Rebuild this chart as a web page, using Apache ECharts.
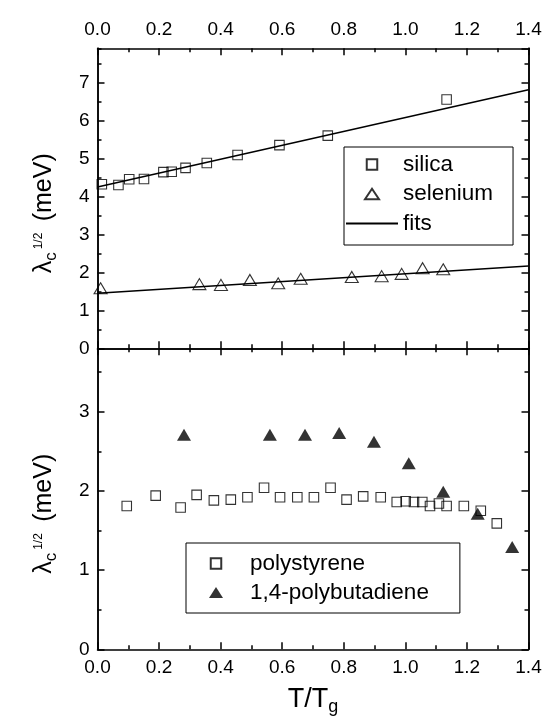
<!DOCTYPE html>
<html><head><meta charset="utf-8">
<script src="https://cdn.jsdelivr.net/npm/echarts@6/dist/echarts.min.js"></script>
<style>html,body{margin:0;padding:0;background:#fff}#c{width:546px;height:724px}</style>
</head><body><div id="c"></div>
<script>
// ---- data ----
const xTickLabels = ['0.0','0.2','0.4','0.6','0.8','1.0','1.2','1.4'];
const topYTickLabels = ['0','1','2','3','4','5','6','7'];
const botYTickLabels = ['0','1','2','3'];

const silicaX = [0.014,0.068,0.103,0.151,0.214,0.241,0.286,0.355,0.455,0.591,0.748,1.134];
const silicaY = [4.32,4.30,4.45,4.46,4.64,4.65,4.75,4.88,5.09,5.35,5.60,6.55];
const seleniumX = [0.010,0.331,0.401,0.495,0.587,0.660,0.826,0.923,0.988,1.056,1.123];
const seleniumY = [1.58,1.69,1.67,1.80,1.71,1.83,1.88,1.90,1.96,2.11,2.08];
const fitSilicaX = [0,1.4];
const fitSilicaY = [4.25,6.81];
const fitSeleniumX = [0,1.4];
const fitSeleniumY = [1.45,2.17];

const polystyreneX = [0.095,0.189,0.270,0.322,0.378,0.433,0.487,0.541,0.593,0.649,0.703,0.757,0.809,0.863,0.920,0.972,1.001,1.028,1.055,1.080,1.109,1.134,1.190,1.245,1.297];
const polystyreneY = [1.81,1.94,1.79,1.95,1.88,1.89,1.92,2.04,1.92,1.92,1.92,2.04,1.89,1.93,1.92,1.86,1.87,1.86,1.86,1.81,1.84,1.81,1.81,1.75,1.59];
const polybutadieneX = [0.281,0.560,0.674,0.785,0.898,1.011,1.123,1.235,1.347];
const polybutadieneY = [2.71,2.71,2.71,2.73,2.62,2.35,1.99,1.71,1.29];

// ---- helpers ----
const FONT = 'Liberation Sans, Arial, sans-serif';
const zip = (xs, ys) => xs.map((x, i) => [x, ys[i]]);
const lineStyle = {color: '#000', width: 1.5};

// legend icon shapes: invisible corner points keep the icon box proportions
const iconBox = (w, h) => 'M0 0L0 0M' + w + ' ' + h + 'L' + w + ' ' + h;
const squareIcon = (w, h, s) => 'path://' + iconBox(w, h) +
  'M' + (w / 2 - s / 2) + ' ' + (h / 2 - s / 2) + 'h' + s + 'v' + s + 'h' + (-s) + 'Z';
const triIcon = (w, h, tw, th) => 'path://' + iconBox(w, h) +
  'M' + (w / 2) + ' ' + (h / 2 - th / 2) + 'L' + (w / 2 + tw / 2) + ' ' + (h / 2 + th / 2) +
  'L' + (w / 2 - tw / 2) + ' ' + (h / 2 + th / 2) + 'Z';

function xAxis(gridIndex, position, showLabels, extra) {
  return Object.assign({
    type: 'value', gridIndex, position, min: 0, max: 1.4, interval: 0.2,
    axisLine: {show: true, onZero: false, lineStyle},
    axisTick: {show: true, inside: true, length: 7, lineStyle},
    minorTick: {show: true, splitNumber: 2, length: 4, lineStyle: {color: '#000', width: 1.5}},
    splitLine: {show: false},
    axisLabel: {show: showLabels, fontFamily: FONT, fontSize: 19, color: '#000', margin: 9,
      formatter: v => xTickLabels[Math.round(v / 0.2)]}
  }, extra || {});
}
function yAxis(gridIndex, position, max, interval, tickLen, labels, extra) {
  return Object.assign({
    type: 'value', gridIndex, position, min: 0, max, interval,
    axisLine: {show: true, onZero: false, lineStyle},
    axisTick: {show: true, inside: true, length: tickLen, lineStyle},
    splitLine: {show: false},
    axisLabel: labels ? {show: true, fontFamily: FONT, fontSize: 19, color: '#000', margin: 8,
      showMaxLabel: false, formatter: v => labels[Math.round(v)]} : {show: false}
  }, extra || {});
}
function yName() {
  return {
    name: '{l|λ}{sub|c}{sup|1/2} {t|(meV)}',
    nameLocation: 'middle', nameRotate: 90, nameGap: 38,
    nameTextStyle: {
      fontFamily: FONT, color: '#000',
      rich: {
        l: {fontFamily: FONT, fontSize: 25, lineHeight: 30, color: '#000'},
        sub: {fontFamily: FONT, fontSize: 17, lineHeight: 17, verticalAlign: 'bottom', color: '#000'},
        sup: {fontFamily: FONT, fontSize: 12, lineHeight: 12, verticalAlign: 'top', color: '#000', padding: [3, 0, 0, 3]},
        t: {fontFamily: FONT, fontSize: 25, lineHeight: 30, color: '#000', padding: [0, 30, 0, 8]}
      }
    }
  };
}

const grids = [
  {left: 97.5, top: 48.3, width: 431, height: 300},
  {left: 97.5, top: 348.3, width: 431, height: 301}
];

const emptyStyle = {color: 'rgba(255,255,255,0)', borderColor: '#000', borderWidth: 1.1};

const option = {
  animation: false,
  backgroundColor: '#fff',
  grid: grids,
  xAxis: [
    xAxis(0, 'bottom', false),
    xAxis(0, 'top', true),
    xAxis(1, 'bottom', true, {
      name: 'T/T{sub|g}', nameLocation: 'middle', nameGap: 33,
      nameTextStyle: {fontFamily: FONT, fontSize: 27, color: '#000', lineHeight: 34,
        rich: {sub: {fontFamily: FONT, fontSize: 18, lineHeight: 18, verticalAlign: 'bottom', color: '#000'}}}
    }),
    xAxis(1, 'top', false)
  ],
  yAxis: [
    yAxis(0, 'left', 7.9, 1, 7, topYTickLabels, yName()),
    yAxis(0, 'left', 7.9, 0.5, 4, null),
    yAxis(0, 'right', 7.9, 1, 7, null),
    yAxis(0, 'right', 7.9, 0.5, 4, null),
    yAxis(1, 'left', 3.8, 1, 7, botYTickLabels, yName()),
    yAxis(1, 'left', 3.8, 0.5, 4, null),
    yAxis(1, 'right', 3.8, 1, 7, null),
    yAxis(1, 'right', 3.8, 0.5, 4, null)
  ],
  legend: [
    {left: 344, top: 147, orient: 'vertical', selectedMode: false,
     data: [
       {name: 'silica', icon: squareIcon(52, 12, 10.5)},
       {name: 'selenium', icon: triIcon(52, 12, 14, 10.5)},
       {name: 'fits'}
     ],
     itemWidth: 52, itemHeight: 12, itemGap: 6.5, padding: [6, 20, 10, 1],
     borderColor: '#000', borderWidth: 1,
     textStyle: {fontFamily: FONT, fontSize: 22.5, color: '#000'}},
    {left: 186, top: 543, orient: 'vertical', selectedMode: false,
     data: [
       {name: 'polystyrene', icon: squareIcon(58, 12, 10.5)},
       {name: '1,4-polybutadiene', icon: triIcon(58, 12, 14, 11)}
     ],
     itemWidth: 58, itemHeight: 12, itemGap: 6, padding: [9, 31, 9, 0],
     borderColor: '#000', borderWidth: 1,
     textStyle: {fontFamily: FONT, fontSize: 22.5, color: '#000'}}
  ],
  series: [
    {name: 'fits', type: 'line', xAxisIndex: 0, yAxisIndex: 0, data: zip(fitSilicaX, fitSilicaY),
     symbol: 'circle', showSymbol: false, symbolSize: 0, lineStyle: {color: '#000', width: 1.5},
     itemStyle: {color: 'rgba(0,0,0,0)', borderWidth: 0}, z: 2},
    {name: 'fits', type: 'line', xAxisIndex: 0, yAxisIndex: 0, data: zip(fitSeleniumX, fitSeleniumY),
     symbol: 'circle', showSymbol: false, symbolSize: 0, lineStyle: {color: '#000', width: 1.5},
     itemStyle: {color: 'rgba(0,0,0,0)', borderWidth: 0}, z: 2},
    {name: 'silica', type: 'scatter', xAxisIndex: 0, yAxisIndex: 0, data: zip(silicaX, silicaY),
     symbol: 'rect', symbolSize: 9.5, itemStyle: emptyStyle, z: 3},
    {name: 'selenium', type: 'scatter', xAxisIndex: 0, yAxisIndex: 0, data: zip(seleniumX, seleniumY),
     symbol: 'triangle', symbolSize: [13, 11], itemStyle: emptyStyle, z: 3},
    {name: 'polystyrene', type: 'scatter', xAxisIndex: 2, yAxisIndex: 4, data: zip(polystyreneX, polystyreneY),
     symbol: 'rect', symbolSize: 9.5, itemStyle: emptyStyle, z: 3},
    {name: '1,4-polybutadiene', type: 'scatter', xAxisIndex: 2, yAxisIndex: 4, data: zip(polybutadieneX, polybutadieneY),
     symbol: 'triangle', symbolSize: [14, 12],
     itemStyle: {color: '#000', borderColor: '#000', borderWidth: 0}, z: 4}
  ]
};

const chart = echarts.init(document.getElementById('c'), null, {renderer: 'canvas'});
chart.setOption(option);
</script>
</body></html>
